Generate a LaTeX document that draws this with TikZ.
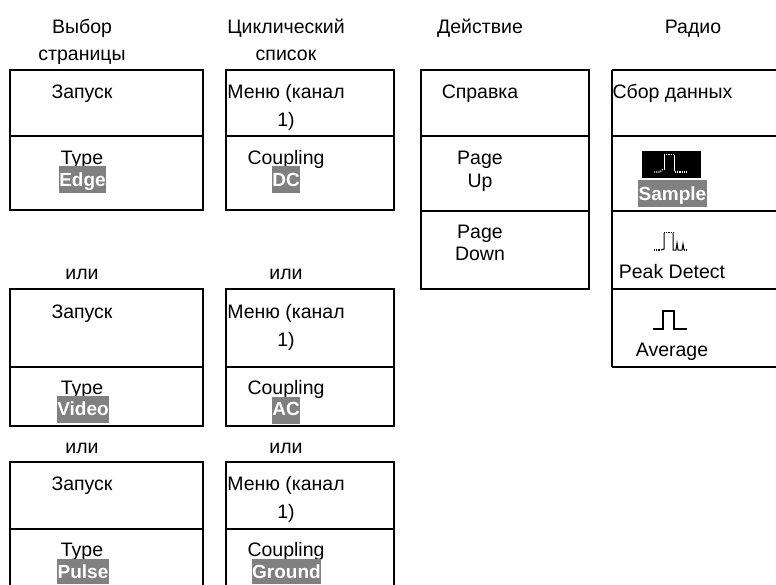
\documentclass[tikz,border=0pt]{standalone}
\usepackage{fontspec}
\setmainfont{Liberation Sans}
\tikzset{
  x=1pt,y=-1pt,
  cell/.style={draw=black,line width=1.5pt},
  txt/.style={anchor=base,yshift=-1pt,inner sep=0pt,outer sep=0pt,font=\fontsize{19.5}{22}\selectfont,text=black},
  hltxt/.style={anchor=base,inner sep=0pt,outer sep=0pt,font=\fontsize{19}{22}\selectfont\bfseries,text=white},
  dotwave/.style={line width=1pt},
  dotline/.style={line width=1.1pt,dash pattern=on 1.1pt off 1.1pt},
}
\definecolor{hlgray}{HTML}{808080}
\begin{document}
\begin{tikzpicture}
\useasboundingbox (0,0) rectangle (776,584);
% cells
\draw[cell] (10,70) rectangle (203,136);
\draw[cell] (10,136) rectangle (203,210);
\draw[cell] (226,70) rectangle (394,136);
\draw[cell] (226,136) rectangle (394,210);
\draw[cell] (421,70) rectangle (589,136);
\draw[cell] (421,136) rectangle (589,211);
\draw[cell] (421,211) rectangle (589,289);
\draw[cell] (612,70) -- (780,70);
\draw[cell] (612,136) -- (780,136);
\draw[cell] (612,211) -- (780,211);
\draw[cell] (612,289) -- (780,289);
\draw[cell] (612,367) -- (780,367);
\draw[cell] (612,70) -- (612,367);
\draw[cell] (10,289) rectangle (203,367);
\draw[cell] (10,367) rectangle (203,426);
\draw[cell] (226,289) rectangle (394,367);
\draw[cell] (226,367) rectangle (394,426);
\draw[cell] (10,462) rectangle (203,529);
\draw[cell] (10,529) -- (10,590) (203,529) -- (203,590);
\draw[cell] (226,462) rectangle (394,529);
\draw[cell] (226,529) -- (226,590) (394,529) -- (394,590);
% headings
\node[txt] (h1a) at (82,32) {Выбор};
\node[txt] (h1b) at (82,59) {страницы};
\node[txt] (h2a) at (286,32) {Циклический};
\node[txt] (h2b) at (286,59) {список};
\node[txt] (h3) at (480,32) {Действие};
\node[txt] (h4) at (693,32) {Радио};
% column 1
\node[txt] (t1) at (82,97) {Запуск};
\node[txt] (t1b) at (82,163) {Type};
\fill[hlgray] (59,166) rectangle (106,193);
\node[hltxt] (t1c) at (82.5,186) {Edge};
\node[txt] (or1) at (82,278) {или};
\node[txt] (t2) at (82,317) {Запуск};
\node[txt] (t2b) at (82,393) {Type};
\fill[hlgray] (57,396) rectangle (109,423);
\node[hltxt] (t2c) at (83,415) {Video};
\node[txt] (or3) at (82,452) {или};
\node[txt] (t3) at (82,489) {Запуск};
\node[txt] (t3b) at (82,555) {Type};
\fill[hlgray] (57,559) rectangle (109,584);
\node[hltxt] (t3c) at (83,578) {Pulse};
% column 2
\node[txt] (m1) at (286,97) {Меню (канал};
\node[txt] (m1b) at (286,125) {1)};
\node[txt] (c1) at (286,163) {Coupling};
\fill[hlgray] (272,166) rectangle (300,193);
\node[hltxt] (c1b) at (286,186) {DC};
\node[txt] (or2) at (286,278) {или};
\node[txt] (m2) at (286,317) {Меню (канал};
\node[txt] (m2b) at (286,345) {1)};
\node[txt] (c2) at (286,393) {Coupling};
\fill[hlgray] (272,397) rectangle (300,424);
\node[hltxt] (c2b) at (286,415) {AC};
\node[txt] (or4) at (286,452) {или};
\node[txt] (m3) at (286,489) {Меню (канал};
\node[txt] (m3b) at (286,517) {1)};
\node[txt] (c3) at (286,555) {Coupling};
\fill[hlgray] (252,559) rectangle (321,584);
\node[hltxt] (c3b) at (286.5,578) {Ground};
% column 3
\node[txt] (s) at (480,97) {Справка};
\node[txt] (pu) at (480,163) {Page};
\node[txt] (pub) at (480,186) {Up};
\node[txt] (pd) at (480,237) {Page};
\node[txt] (pdb) at (480,259) {Down};
% column 4
\node[txt] (a) at (672.5,97) {Сбор данных};
\fill[black] (642,151) rectangle (701,178);
\draw[white,dotline] (654,172) -- (660,172) -- (663,169);
\draw[white,dotwave] (664,170) -- (664,155);
\draw[white,dotline] (664,154.5) -- (674,154.5);
\draw[white,dotwave] (674,155) -- (674,171);
\draw[white,dotline] (675,172) -- (688,172);
\fill[hlgray] (638,180) rectangle (707,207);
\node[hltxt] (sa) at (672.5,200) {Sample};
\draw[black,dotline] (654,250) -- (660,250);
\draw[black,dotwave] (661,250) -- (664,249) -- (664,233);
\draw[black,dotline] (664,232.5) -- (673,232.5);
\draw[black,dotwave] (673,233) -- (673,250) -- (676,250) -- (677,243) -- (678,250) -- (682,250) -- (683,244) -- (684,250);
\draw[black,dotline] (684,250) -- (688,250);
\node[txt] (pk) at (672,277) {Peak Detect};
\draw[black,line width=1.3pt] (653,329) -- (663,329) -- (663,311) -- (674,311) -- (674,329) -- (687,329);
\node[txt] (av) at (672,355) {Average};
\end{tikzpicture}
\end{document}
